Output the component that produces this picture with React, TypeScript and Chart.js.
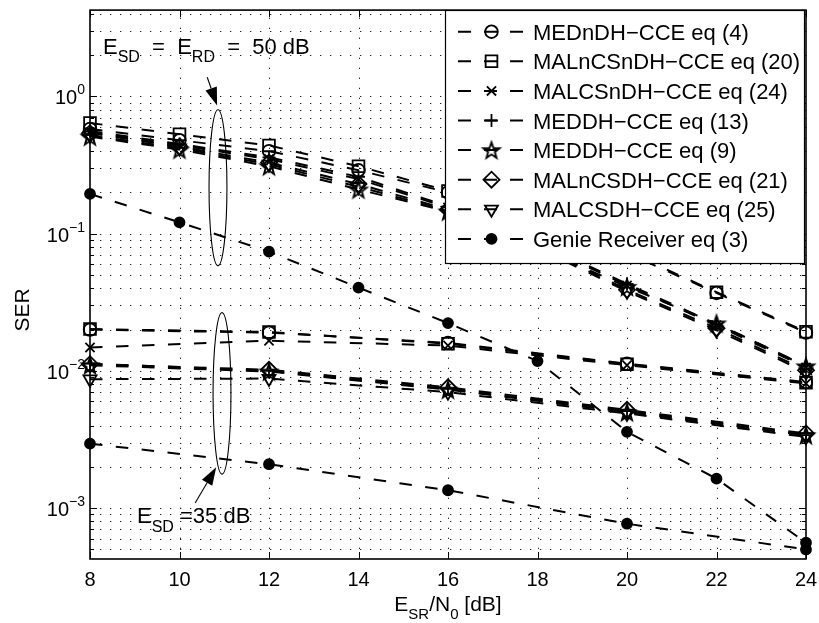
import React, { useEffect, useRef } from 'react';
import { Chart, registerables } from 'chart.js';
import { drawPoint } from 'chart.js/helpers';

Chart.register(...registerables);

const FONT = '"Liberation Sans", Arial, Helvetica, sans-serif';

// x values (E_SR/N0 in dB)
const snrUpper = [8, 10, 12, 14, 16, 18, 20, 22, 24];
const snrLower = [8, 12, 16, 20, 24];

const seriesNames = [
  'MEDnDH\u2212CCE eq (4)',
  'MALnCSnDH\u2212CCE eq (20)',
  'MALCSnDH\u2212CCE eq (24)',
  'MEDDH\u2212CCE eq (13)',
  'MEDDH\u2212CCE eq (9)',
  'MALnCSDH\u2212CCE eq (21)',
  'MALCSDH\u2212CCE eq (25)',
  'Genie Receiver eq (3)',
];

// E_SD = E_RD = 50 dB group
const eq4Upper = [0.58, 0.48, 0.40, 0.29, 0.20, 0.125, 0.072, 0.037, 0.019];
const eq20Upper = [0.64, 0.53, 0.44, 0.31, 0.205, 0.128, 0.074, 0.0375, 0.0193];
const eq24Upper = [0.55, 0.44, 0.35, 0.25, 0.155, 0.085, 0.042, 0.0215, 0.0106];
const eq13Upper = [0.56, 0.45, 0.36, 0.26, 0.158, 0.087, 0.043, 0.022, 0.0109];
const eq9Upper = [0.51, 0.41, 0.31, 0.21, 0.145, 0.079, 0.041, 0.0222, 0.0108];
const eq21Upper = [0.54, 0.43, 0.33, 0.23, 0.15, 0.081, 0.039, 0.0205, 0.0101];
const eq25Upper = [0.52, 0.42, 0.32, 0.22, 0.147, 0.079, 0.038, 0.0198, 0.0098];
const genieUpper = [0.195, 0.121, 0.074, 0.0405, 0.0223, 0.0118, 0.0036, 0.00164, 0.00056];

// E_SD = 35 dB group
const eq4Lower = [0.0200, 0.0190, 0.0160, 0.0113, 0.0083];
const eq20Lower = [0.0202, 0.0192, 0.0158, 0.0112, 0.0082];
const eq24Lower = [0.0148, 0.0166, 0.0153, 0.0110, 0.0081];
const eq13Lower = [0.0113, 0.0100, 0.0074, 0.0051, 0.0034];
const eq9Lower = [0.0110, 0.0099, 0.0073, 0.0050, 0.0034];
const eq21Lower = [0.0112, 0.0102, 0.0076, 0.0052, 0.0035];
const eq25Lower = [0.0087, 0.0088, 0.0070, 0.0049, 0.0033];
const genieLower = [0.00295, 0.00209, 0.00135, 0.00077, 0.0005];

const upperSets = [eq4Upper, eq20Upper, eq24Upper, eq13Upper, eq9Upper, eq21Upper, eq25Upper, genieUpper];
const lowerSets = [eq4Lower, eq20Lower, eq24Lower, eq13Lower, eq9Lower, eq21Lower, eq25Lower, genieLower];

const xTicks = [8, 10, 12, 14, 16, 18, 20, 22, 24];
const yDecades = [-3, -2, -1, 0];
const Y_MIN = 4.26e-4;
const Y_MAX = 4.26;

// annotations in data coordinates
const ellipseTop = { x: 10.86, yHi: 0.80, yLo: 0.0585, dx: 0.2 };
const ellipseBottom = { x: 10.95, yHi: 0.0266, yLo: 0.00177, dx: 0.2 };
const arrowTop = { x0: 10.62, y0: 1.38, x1: 10.84, y1: 0.86 };
const arrowBottom = { x0: 10.35, y0: 0.00109, x1: 10.82, y1: 0.00199 };
const labelTop = { x: 8.29, y: 2.04 };
const labelBottom = { x: 9.05, y: 0.000778 };

type Seg = { t: string; s?: 'sub' | 'sup' };

function drawRich(ctx: CanvasRenderingContext2D, segs: Seg[], x: number, y: number, size: number, small: number, align: 'left' | 'center' | 'right', subOff = 8, supOff = 10) {
  const mainF = `${size}px ${FONT}`;
  const smallF = `${small}px ${FONT}`;
  let w = 0;
  for (const sg of segs) {
    ctx.font = sg.s ? smallF : mainF;
    w += ctx.measureText(sg.t).width;
  }
  let cx = align === 'left' ? x : align === 'center' ? x - w / 2 : x - w;
  ctx.textAlign = 'left';
  ctx.textBaseline = 'alphabetic';
  for (const sg of segs) {
    ctx.font = sg.s ? smallF : mainF;
    const dy = sg.s === 'sub' ? subOff : sg.s === 'sup' ? -supOff : 0;
    ctx.fillText(sg.t, cx, y + dy);
    cx += ctx.measureText(sg.t).width;
  }
}

function makeStar(): HTMLCanvasElement {
  const c = document.createElement('canvas');
  const s = 24;
  c.width = s;
  c.height = s;
  const g = c.getContext('2d')!;
  const R = 8.5, r = 3.5, cx = s / 2, cy = s / 2 + 0.8;
  g.beginPath();
  for (let i = 0; i < 10; i++) {
    const a = -Math.PI / 2 + (i * Math.PI) / 5;
    const rad = i % 2 ? r : R;
    const px = cx + rad * Math.cos(a);
    const py = cy + rad * Math.sin(a);
    if (i) g.lineTo(px, py);
    else g.moveTo(px, py);
  }
  g.closePath();
  g.lineWidth = 1.9;
  g.strokeStyle = '#000';
  g.lineJoin = 'miter';
  g.stroke();
  return c;
}

type Marker = { style: any; radius: number; rotation: number; filled: boolean };

function markerStyles(star: HTMLCanvasElement): Marker[] {
  return [
    { style: 'circle', radius: 6.3, rotation: 0, filled: false },
    { style: 'rect', radius: 8.3, rotation: 0, filled: false },
    { style: 'crossRot', radius: 6.5, rotation: 0, filled: false },
    { style: 'cross', radius: 6.5, rotation: 0, filled: false },
    { style: star, radius: 8, rotation: 0, filled: false },
    { style: 'rectRot', radius: 8, rotation: 0, filled: false },
    { style: 'triangle', radius: 7.5, rotation: 180, filled: false },
    { style: 'circle', radius: 5, rotation: 0, filled: true },
  ];
}

function makeDecor(markers: Marker[]) {
  return {
    id: 'decor',
    beforeDatasetsDraw(chart: any) {
      const { ctx, chartArea: a, scales } = chart;
      const xs = scales.x, ys = scales.y;
      ctx.save();
      ctx.strokeStyle = '#222';
      ctx.lineWidth = 1;
      ctx.setLineDash([1.3, 8.7]);
      for (const t of xTicks) {
        if (t === 8 || t === 24) continue;
        const px = Math.round(xs.getPixelForValue(t)) + 0.5;
        ctx.beginPath();
        ctx.moveTo(px, a.bottom);
        ctx.lineTo(px, a.top);
        ctx.stroke();
      }
      for (let e = -4; e <= 0; e++) {
        for (let k = 1; k <= 9; k++) {
          const v = k * Math.pow(10, e);
          if (v <= Y_MIN || v >= Y_MAX) continue;
          const py = Math.round(ys.getPixelForValue(v)) + 0.5;
          ctx.beginPath();
          ctx.moveTo(a.left, py);
          ctx.lineTo(a.right, py);
          ctx.stroke();
        }
      }
      ctx.restore();
    },
    afterDatasetsDraw(chart: any) {
      const { ctx, chartArea: a, scales } = chart;
      const xs = scales.x, ys = scales.y;
      const X = (v: number) => xs.getPixelForValue(v);
      const Y = (v: number) => ys.getPixelForValue(v);
      ctx.save();
      ctx.setLineDash([]);
      ctx.strokeStyle = '#000';
      ctx.fillStyle = '#000';

      // ellipses
      ctx.lineWidth = 1.1;
      for (const el of [ellipseTop, ellipseBottom]) {
        const cx = X(el.x);
        const rx = X(el.x + el.dx) - cx;
        const top = Y(el.yHi), bot = Y(el.yLo);
        ctx.beginPath();
        ctx.ellipse(cx, (top + bot) / 2, rx, (bot - top) / 2, 0, 0, Math.PI * 2);
        ctx.stroke();
      }
      // arrows
      for (const ar of [arrowTop, arrowBottom]) {
        const x0 = X(ar.x0), y0 = Y(ar.y0), x1 = X(ar.x1), y1 = Y(ar.y1);
        const ang = Math.atan2(y1 - y0, x1 - x0);
        const L = 18, W = 6;
        const bx = x1 - L * Math.cos(ang), by = y1 - L * Math.sin(ang);
        ctx.lineWidth = 1.1;
        ctx.beginPath();
        ctx.moveTo(x0, y0);
        ctx.lineTo(bx, by);
        ctx.stroke();
        ctx.beginPath();
        ctx.moveTo(x1, y1);
        ctx.lineTo(bx + W * Math.sin(ang), by - W * Math.cos(ang));
        ctx.lineTo(bx - W * Math.sin(ang), by + W * Math.cos(ang));
        ctx.closePath();
        ctx.fill();
      }
      // annotation texts
      drawRich(ctx, [{ t: 'E' }, { t: 'SD', s: 'sub' }, { t: '  =  E' }, { t: 'RD', s: 'sub' }, { t: '  =  50 dB' }], X(labelTop.x), Y(labelTop.y), 22, 16, 'left', 8);
      drawRich(ctx, [{ t: 'E' }, { t: 'SD', s: 'sub' }, { t: ' =35 dB' }], X(labelBottom.x), Y(labelBottom.y), 22, 16, 'left', 9);

      // axes box
      ctx.lineWidth = 1.6;
      ctx.strokeRect(a.left, a.top, a.right - a.left, a.bottom - a.top);

      // ticks (inward)
      ctx.lineWidth = 1;
      for (const t of xTicks) {
        const px = Math.round(X(t)) + 0.5;
        ctx.beginPath();
        ctx.moveTo(px, a.bottom);
        ctx.lineTo(px, a.bottom - 7);
        ctx.moveTo(px, a.top);
        ctx.lineTo(px, a.top + 7);
        ctx.stroke();
      }
      for (let e = -4; e <= 0; e++) {
        for (let k = 1; k <= 9; k++) {
          const v = k * Math.pow(10, e);
          if (v <= Y_MIN || v >= Y_MAX) continue;
          const py = Math.round(Y(v)) + 0.5;
          const len = k === 1 ? 7 : 4;
          ctx.beginPath();
          ctx.moveTo(a.left, py);
          ctx.lineTo(a.left + len, py);
          ctx.moveTo(a.right, py);
          ctx.lineTo(a.right - len, py);
          ctx.stroke();
        }
      }

      // tick labels
      ctx.font = `20px ${FONT}`;
      ctx.textAlign = 'center';
      ctx.textBaseline = 'alphabetic';
      for (const t of xTicks) {
        ctx.fillText(String(t), X(t), a.bottom + 27);
      }
      for (const e of yDecades) {
        const py = Y(Math.pow(10, e));
        const sup = e === 0 ? '0' : '\u2212' + String(-e);
        drawRich(ctx, [{ t: '10' }, { t: sup, s: 'sup' }], a.left - 5, py + 8, 20, 14, 'right', 0, 10);
      }

      // axis titles
      drawRich(ctx, [{ t: 'E' }, { t: 'SR', s: 'sub' }, { t: '/N' }, { t: '0', s: 'sub' }, { t: ' [dB]' }], (a.left + a.right) / 2, 611, 21, 15, 'center', 8);
      ctx.save();
      ctx.translate(29, 310);
      ctx.rotate(-Math.PI / 2);
      ctx.font = `21px ${FONT}`;
      ctx.textAlign = 'center';
      ctx.textBaseline = 'alphabetic';
      ctx.fillText('SER', 0, 0);
      ctx.restore();

      // legend
      const lx = 445, ly = 10, lw = 360, lh = 254;
      ctx.fillStyle = '#fff';
      ctx.fillRect(lx, ly, lw, lh);
      ctx.strokeStyle = '#000';
      ctx.lineWidth = 1.2;
      ctx.strokeRect(lx + 0.5, ly + 0.5, lw - 1, lh - 1);
      for (let i = 0; i < seriesNames.length; i++) {
        const cy = 31.7 + i * 29.6;
        ctx.strokeStyle = '#000';
        ctx.lineWidth = 2;
        ctx.setLineDash([13, 13]);
        ctx.beginPath();
        ctx.moveTo(458, cy);
        ctx.lineTo(524, cy);
        ctx.stroke();
        ctx.setLineDash([]);
        const m = markers[i];
        ctx.fillStyle = m.filled ? '#000' : 'rgba(0,0,0,0)';
        ctx.lineWidth = 1.8;
        drawPoint(ctx, { pointStyle: m.style, rotation: m.rotation, radius: m.radius, borderWidth: 1.8 } as any, 491.5, cy);
        ctx.fillStyle = '#000';
        ctx.font = `22px ${FONT}`;
        ctx.textAlign = 'left';
        ctx.textBaseline = 'alphabetic';
        ctx.fillText(seriesNames[i], 533, cy + 8);
      }
      ctx.restore();
    },
  };
}

export default function App() {
  const ref = useRef<HTMLCanvasElement>(null);
  useEffect(() => {
    const canvas = ref.current!;
    const star = makeStar();
    const markers = markerStyles(star);
    const datasets: any[] = [];
    for (let i = 0; i < seriesNames.length; i++) {
      const m = markers[i];
      const groups: [number[], number[]][] = [
        [snrUpper, upperSets[i]],
        [snrLower, lowerSets[i]],
      ];
      for (const [xv, yv] of groups) {
        datasets.push({
          label: seriesNames[i],
          data: xv.map((x, j) => ({ x, y: yv[j] })),
          borderColor: '#000',
          borderWidth: 2,
          borderDash: [12.5, 13.5],
          pointStyle: m.style,
          pointRadius: m.radius,
          pointRotation: m.rotation,
          pointBorderWidth: 1.8,
          pointBorderColor: '#000',
          pointBackgroundColor: m.filled ? '#000' : 'rgba(0,0,0,0)',
          fill: false,
          tension: 0,
          clip: false,
        });
      }
    }
    const chart = new Chart(canvas, {
      type: 'line',
      data: { datasets },
      options: {
        responsive: false,
        animation: false,
        devicePixelRatio: 1,
        events: [],
        layout: { padding: { left: 90, right: 13, top: 9, bottom: 64 } },
        scales: {
          x: { type: 'linear', min: 8, max: 24, display: false },
          y: { type: 'logarithmic', min: Y_MIN, max: Y_MAX, display: false },
        },
        plugins: { legend: { display: false }, tooltip: { enabled: false } },
      },
      plugins: [makeDecor(markers)],
    } as any);
    return () => chart.destroy();
  }, []);
  return (
    <canvas
      ref={ref}
      width={819}
      height={623}
      style={{ position: 'absolute', left: 0, top: 0, display: 'block', width: 819, height: 623 }}
    />
  );
}
